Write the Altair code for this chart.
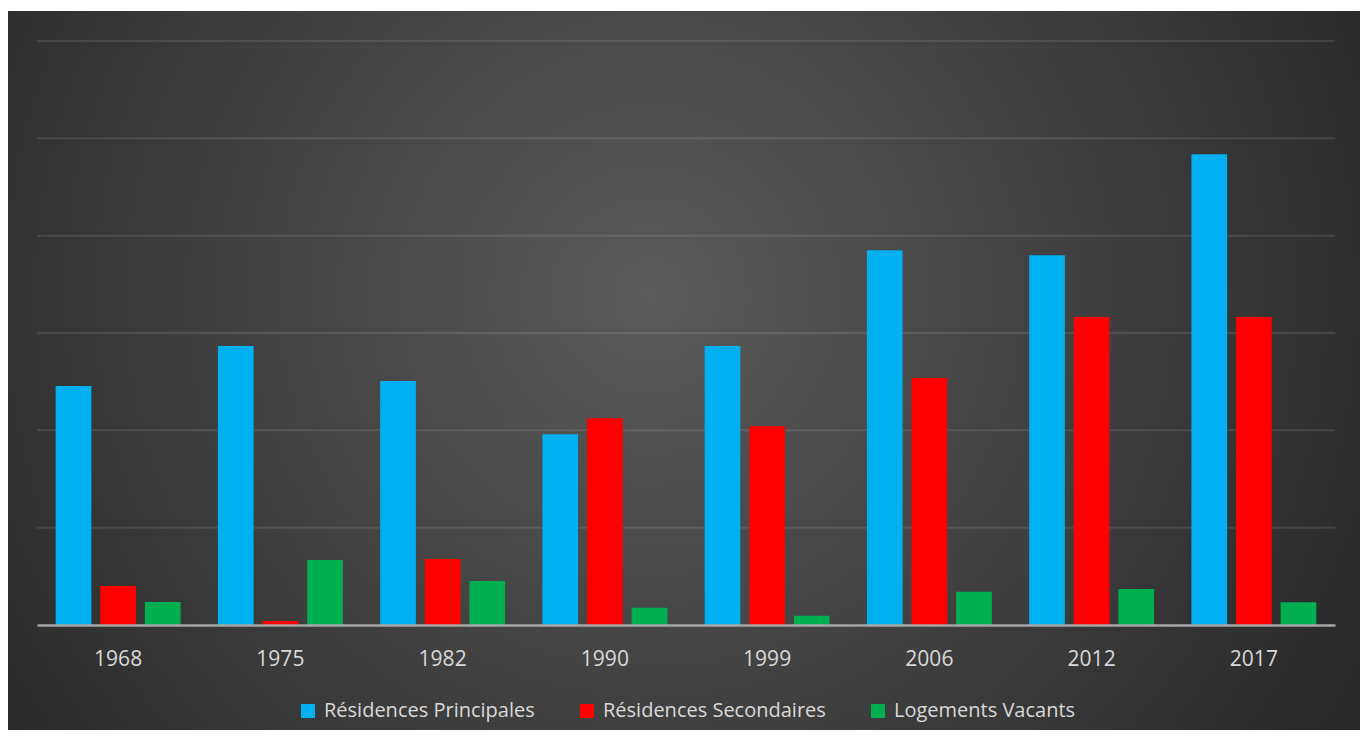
import altair as alt
import pandas as pd

annees = ["1968", "1975", "1982", "1990", "1999", "2006", "2012", "2017"]
series = ["Résidences Principales", "Résidences Secondaires", "Logements Vacants"]
principales = [245.6, 286.6, 250.7, 195.9, 286.6, 385.0, 379.8, 483.6]
secondaires = [40.1, 4.1, 67.8, 212.4, 204.2, 253.8, 316.4, 316.4]
vacants = [23.6, 66.8, 45.2, 17.8, 9.6, 34.2, 37.0, 23.3]
couleurs = ["#00b0f0", "#ff0000", "#00b050"]
grille = [100, 200, 300, 400, 500, 600]

rows = []
for serie, vals in zip(series, [principales, secondaires, vacants]):
    for a, v in zip(annees, vals):
        rows.append({"annee": a, "serie": serie, "valeur": v})
df = pd.DataFrame(rows)

W, H = 1298, 584
FONT = "Open Sans"
TXT = "#d9d9d9"

fond = alt.Chart(pd.DataFrame({"k": [0]})).mark_rect(
    fill=alt.Gradient(
        gradient="radial",
        stops=[alt.GradientStop(color="#5a5a5a", offset=0),
               alt.GradientStop(color="#1e1e1e", offset=1)],
        x1=0.475, y1=0.444, x2=0.475, y2=0.444, r1=0, r2=0.72,
    )
).encode(
    x=alt.value(-29), x2=alt.value(W + 25),
    y=alt.value(-30), y2=alt.value(H + 105),
)

lignes = alt.Chart(pd.DataFrame({"valeur": grille})).mark_rule(
    stroke="#ffffff", strokeOpacity=0.1, strokeWidth=2
).encode(
    y=alt.Y("valeur:Q", scale=alt.Scale(domain=[0, 600]), axis=None),
    x=alt.value(0), x2=alt.value(W),
)

barres = alt.Chart(df).mark_bar().encode(
    x=alt.X("annee:N", sort=annees, title=None,
            scale=alt.Scale(paddingInner=0.23, paddingOuter=0.115),
            axis=alt.Axis(labelAngle=0, labelFont=FONT, labelFontSize=21,
                          labelColor=TXT, ticks=False, grid=False,
                          domainColor="#a6a6a6", domainWidth=2.5,
                          labelPadding=23, zindex=1)),
    xOffset=alt.XOffset("serie:N", sort=series,
                        scale=alt.Scale(paddingInner=0.2, paddingOuter=0)),
    y=alt.Y("valeur:Q", scale=alt.Scale(domain=[0, 600]), axis=None),
    color=alt.Color("serie:N", sort=series,
                    scale=alt.Scale(domain=series, range=couleurs),
                    legend=alt.Legend(orient="none", legendX=261, legendY=660,
                                      direction="horizontal", title=None,
                                      symbolType="square", symbolSize=196,
                                      symbolStrokeWidth=0, labelFont=FONT,
                                      labelFontSize=20, labelColor=TXT,
                                      labelOffset=6, columnPadding=42,
                                      labelLimit=400, zindex=1)),
)

chart = alt.layer(fond, lignes, barres).properties(
    width=W, height=H,
    autosize=alt.AutoSizeParams(type="none"),
    padding={"left": 29, "top": 33, "right": 25, "bottom": 105},
).configure_view(stroke=None).configure(background="#ffffff")

chart.save("out.html", embed_options={"renderer": "svg", "actions": False})
